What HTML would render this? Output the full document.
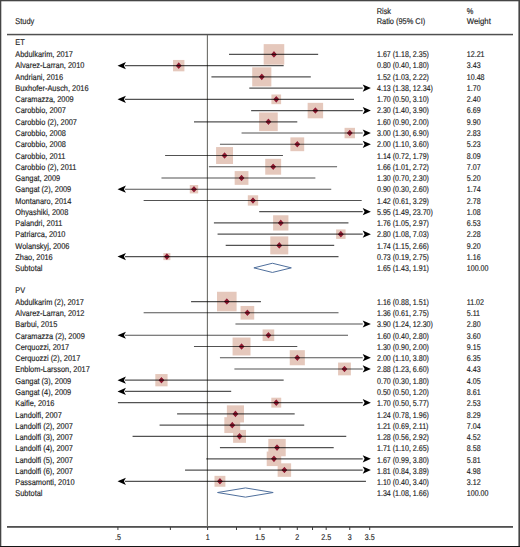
<!DOCTYPE html>
<html><head><meta charset="utf-8"><title>Forest plot</title>
<style>html,body{margin:0;padding:0;background:#fff;width:520px;height:547px;overflow:hidden}svg{display:block}</style>
</head><body>
<svg width="520" height="547" viewBox="0 0 520 547">
<rect x="0" y="0" width="520" height="547" fill="#fff"/>
<rect x="7" y="33.8" width="506" height="1.5" fill="#505050"/>
<rect x="7" y="526" width="506" height="1.8" fill="#505050"/>
<rect x="206.85" y="35" width="1.05" height="492" fill="#656560"/>
<rect x="117.41" y="527" width="1" height="3" fill="#3a3a3a"/>
<rect x="169.87" y="527" width="1" height="3" fill="#3a3a3a"/>
<rect x="207.10" y="527" width="1" height="3" fill="#3a3a3a"/>
<rect x="235.97" y="527" width="1" height="3" fill="#3a3a3a"/>
<rect x="259.57" y="527" width="1" height="3" fill="#3a3a3a"/>
<rect x="279.51" y="527" width="1" height="3" fill="#3a3a3a"/>
<rect x="296.79" y="527" width="1" height="3" fill="#3a3a3a"/>
<rect x="312.03" y="527" width="1" height="3" fill="#3a3a3a"/>
<rect x="325.67" y="527" width="1" height="3" fill="#3a3a3a"/>
<rect x="349.26" y="527" width="1" height="3" fill="#3a3a3a"/>
<rect x="369.21" y="527" width="1" height="3" fill="#3a3a3a"/>
<rect x="263.68" y="44.12" width="20.57" height="20.57" fill="#e5c8bc"/>
<rect x="173.04" y="59.95" width="11.37" height="11.37" fill="#e5c8bc"/>
<rect x="252.22" y="67.31" width="19.13" height="19.13" fill="#e5c8bc"/>
<rect x="271.43" y="94.50" width="9.68" height="9.68" fill="#e5c8bc"/>
<rect x="307.64" y="102.83" width="15.48" height="15.48" fill="#e5c8bc"/>
<rect x="259.11" y="112.50" width="18.62" height="18.62" fill="#e5c8bc"/>
<rect x="344.55" y="127.83" width="10.42" height="10.42" fill="#e5c8bc"/>
<rect x="290.39" y="137.37" width="13.81" height="13.81" fill="#e5c8bc"/>
<rect x="216.09" y="147.05" width="16.93" height="16.93" fill="#e5c8bc"/>
<rect x="265.24" y="158.80" width="15.89" height="15.89" fill="#e5c8bc"/>
<rect x="234.66" y="171.09" width="13.77" height="13.77" fill="#e5c8bc"/>
<rect x="189.77" y="185.02" width="8.39" height="8.39" fill="#e5c8bc"/>
<rect x="247.81" y="195.28" width="10.34" height="10.34" fill="#e5c8bc"/>
<rect x="273.10" y="215.26" width="15.31" height="15.31" fill="#e5c8bc"/>
<rect x="336.10" y="229.42" width="9.46" height="9.46" fill="#e5c8bc"/>
<rect x="270.28" y="236.39" width="17.99" height="17.99" fill="#e5c8bc"/>
<rect x="163.36" y="253.10" width="7.03" height="7.03" fill="#e5c8bc"/>
<rect x="217.01" y="291.76" width="19.59" height="19.59" fill="#e5c8bc"/>
<rect x="240.56" y="305.96" width="13.66" height="13.66" fill="#e5c8bc"/>
<rect x="262.61" y="329.44" width="11.63" height="11.63" fill="#e5c8bc"/>
<rect x="232.58" y="337.52" width="17.94" height="17.94" fill="#e5c8bc"/>
<rect x="289.74" y="350.17" width="15.11" height="15.11" fill="#e5c8bc"/>
<rect x="338.08" y="362.56" width="12.79" height="12.79" fill="#e5c8bc"/>
<rect x="155.31" y="374.06" width="12.27" height="12.27" fill="#e5c8bc"/>
<rect x="271.31" y="397.70" width="9.91" height="9.91" fill="#e5c8bc"/>
<rect x="226.87" y="405.33" width="17.12" height="17.12" fill="#e5c8bc"/>
<rect x="224.34" y="417.20" width="15.86" height="15.86" fill="#e5c8bc"/>
<rect x="233.09" y="429.91" width="12.91" height="12.91" fill="#e5c8bc"/>
<rect x="268.32" y="438.89" width="17.40" height="17.40" fill="#e5c8bc"/>
<rect x="266.71" y="451.58" width="14.50" height="14.50" fill="#e5c8bc"/>
<rect x="277.63" y="463.31" width="13.50" height="13.50" fill="#e5c8bc"/>
<rect x="214.49" y="475.85" width="10.89" height="10.89" fill="#e5c8bc"/>
<path d="M270.96 54.40 L273.96 51.10 L276.96 54.40 L273.96 57.70 Z" fill="#901b31" stroke="#f4e2dc" stroke-width="0.8" paint-order="stroke"/>
<path d="M175.73 65.64 L178.73 62.34 L181.73 65.64 L178.73 68.94 Z" fill="#901b31" stroke="#f4e2dc" stroke-width="0.8" paint-order="stroke"/>
<path d="M258.78 76.87 L261.78 73.57 L264.78 76.87 L261.78 80.17 Z" fill="#901b31" stroke="#f4e2dc" stroke-width="0.8" paint-order="stroke"/>
<path d="M273.26 99.34 L276.26 96.04 L279.26 99.34 L276.26 102.64 Z" fill="#901b31" stroke="#f4e2dc" stroke-width="0.8" paint-order="stroke"/>
<path d="M312.38 110.57 L315.38 107.27 L318.38 110.57 L315.38 113.87 Z" fill="#901b31" stroke="#f4e2dc" stroke-width="0.8" paint-order="stroke"/>
<path d="M265.42 121.81 L268.42 118.51 L271.42 121.81 L268.42 125.11 Z" fill="#901b31" stroke="#f4e2dc" stroke-width="0.8" paint-order="stroke"/>
<path d="M346.76 133.04 L349.76 129.74 L352.76 133.04 L349.76 136.34 Z" fill="#901b31" stroke="#f4e2dc" stroke-width="0.8" paint-order="stroke"/>
<path d="M294.29 144.28 L297.29 140.98 L300.29 144.28 L297.29 147.58 Z" fill="#901b31" stroke="#f4e2dc" stroke-width="0.8" paint-order="stroke"/>
<path d="M221.56 155.51 L224.56 152.21 L227.56 155.51 L224.56 158.81 Z" fill="#901b31" stroke="#f4e2dc" stroke-width="0.8" paint-order="stroke"/>
<path d="M270.18 166.74 L273.18 163.44 L276.18 166.74 L273.18 170.04 Z" fill="#901b31" stroke="#f4e2dc" stroke-width="0.8" paint-order="stroke"/>
<path d="M238.55 177.98 L241.55 174.68 L244.55 177.98 L241.55 181.28 Z" fill="#901b31" stroke="#f4e2dc" stroke-width="0.8" paint-order="stroke"/>
<path d="M190.97 189.21 L193.97 185.91 L196.97 189.21 L193.97 192.51 Z" fill="#901b31" stroke="#f4e2dc" stroke-width="0.8" paint-order="stroke"/>
<path d="M249.97 200.45 L252.97 197.15 L255.97 200.45 L252.97 203.75 Z" fill="#901b31" stroke="#f4e2dc" stroke-width="0.8" paint-order="stroke"/>
<path d="M277.75 222.91 L280.75 219.61 L283.75 222.91 L280.75 226.21 Z" fill="#901b31" stroke="#f4e2dc" stroke-width="0.8" paint-order="stroke"/>
<path d="M337.83 234.15 L340.83 230.85 L343.83 234.15 L340.83 237.45 Z" fill="#901b31" stroke="#f4e2dc" stroke-width="0.8" paint-order="stroke"/>
<path d="M276.27 245.38 L279.27 242.08 L282.27 245.38 L279.27 248.68 Z" fill="#901b31" stroke="#f4e2dc" stroke-width="0.8" paint-order="stroke"/>
<path d="M163.88 256.62 L166.88 253.32 L169.88 256.62 L166.88 259.92 Z" fill="#901b31" stroke="#f4e2dc" stroke-width="0.8" paint-order="stroke"/>
<path d="M223.81 301.55 L226.81 298.25 L229.81 301.55 L226.81 304.85 Z" fill="#901b31" stroke="#f4e2dc" stroke-width="0.8" paint-order="stroke"/>
<path d="M244.39 312.79 L247.39 309.49 L250.39 312.79 L247.39 316.09 Z" fill="#901b31" stroke="#f4e2dc" stroke-width="0.8" paint-order="stroke"/>
<path d="M265.42 335.25 L268.42 331.95 L271.42 335.25 L268.42 338.55 Z" fill="#901b31" stroke="#f4e2dc" stroke-width="0.8" paint-order="stroke"/>
<path d="M238.55 346.49 L241.55 343.19 L244.55 346.49 L241.55 349.79 Z" fill="#901b31" stroke="#f4e2dc" stroke-width="0.8" paint-order="stroke"/>
<path d="M294.29 357.72 L297.29 354.42 L300.29 357.72 L297.29 361.02 Z" fill="#901b31" stroke="#f4e2dc" stroke-width="0.8" paint-order="stroke"/>
<path d="M341.48 368.96 L344.48 365.66 L347.48 368.96 L344.48 372.26 Z" fill="#901b31" stroke="#f4e2dc" stroke-width="0.8" paint-order="stroke"/>
<path d="M158.45 380.19 L161.45 376.89 L164.45 380.19 L161.45 383.49 Z" fill="#901b31" stroke="#f4e2dc" stroke-width="0.8" paint-order="stroke"/>
<path d="M273.26 402.66 L276.26 399.36 L279.26 402.66 L276.26 405.96 Z" fill="#901b31" stroke="#f4e2dc" stroke-width="0.8" paint-order="stroke"/>
<path d="M232.44 413.89 L235.44 410.59 L238.44 413.89 L235.44 417.19 Z" fill="#901b31" stroke="#f4e2dc" stroke-width="0.8" paint-order="stroke"/>
<path d="M229.27 425.13 L232.27 421.83 L235.27 425.13 L232.27 428.43 Z" fill="#901b31" stroke="#f4e2dc" stroke-width="0.8" paint-order="stroke"/>
<path d="M236.54 436.36 L239.54 433.06 L242.54 436.36 L239.54 439.66 Z" fill="#901b31" stroke="#f4e2dc" stroke-width="0.8" paint-order="stroke"/>
<path d="M274.02 447.59 L277.02 444.29 L280.02 447.59 L277.02 450.89 Z" fill="#901b31" stroke="#f4e2dc" stroke-width="0.8" paint-order="stroke"/>
<path d="M270.96 458.83 L273.96 455.53 L276.96 458.83 L273.96 462.13 Z" fill="#901b31" stroke="#f4e2dc" stroke-width="0.8" paint-order="stroke"/>
<path d="M281.38 470.06 L284.38 466.76 L287.38 470.06 L284.38 473.36 Z" fill="#901b31" stroke="#f4e2dc" stroke-width="0.8" paint-order="stroke"/>
<path d="M216.93 481.30 L219.93 478.00 L222.93 481.30 L219.93 484.60 Z" fill="#901b31" stroke="#f4e2dc" stroke-width="0.8" paint-order="stroke"/>
<line x1="229.02" y1="54.40" x2="318.16" y2="54.40" stroke="#000" stroke-opacity="0.68" stroke-width="1.15"/>
<line x1="124.91" y1="65.64" x2="283.66" y2="65.64" stroke="#000" stroke-opacity="0.68" stroke-width="1.15"/>
<line x1="211.42" y1="76.87" x2="310.80" y2="76.87" stroke="#000" stroke-opacity="0.68" stroke-width="1.15"/>
<line x1="249.28" y1="88.11" x2="362.71" y2="88.11" stroke="#000" stroke-opacity="0.68" stroke-width="1.15"/>
<line x1="124.91" y1="99.34" x2="354.00" y2="99.34" stroke="#000" stroke-opacity="0.68" stroke-width="1.15"/>
<line x1="251.14" y1="110.57" x2="362.71" y2="110.57" stroke="#000" stroke-opacity="0.68" stroke-width="1.15"/>
<line x1="193.97" y1="121.81" x2="297.29" y2="121.81" stroke="#000" stroke-opacity="0.68" stroke-width="1.15"/>
<line x1="241.55" y1="133.04" x2="362.71" y2="133.04" stroke="#000" stroke-opacity="0.68" stroke-width="1.15"/>
<line x1="219.93" y1="144.28" x2="362.71" y2="144.28" stroke="#000" stroke-opacity="0.68" stroke-width="1.15"/>
<line x1="165.09" y1="155.51" x2="282.94" y2="155.51" stroke="#000" stroke-opacity="0.68" stroke-width="1.15"/>
<line x1="208.89" y1="166.74" x2="337.08" y2="166.74" stroke="#000" stroke-opacity="0.68" stroke-width="1.15"/>
<line x1="161.45" y1="177.98" x2="315.38" y2="177.98" stroke="#000" stroke-opacity="0.68" stroke-width="1.15"/>
<line x1="124.91" y1="189.21" x2="331.24" y2="189.21" stroke="#000" stroke-opacity="0.68" stroke-width="1.15"/>
<line x1="143.64" y1="200.45" x2="361.70" y2="200.45" stroke="#000" stroke-opacity="0.68" stroke-width="1.15"/>
<line x1="259.20" y1="211.68" x2="362.71" y2="211.68" stroke="#000" stroke-opacity="0.68" stroke-width="1.15"/>
<line x1="213.91" y1="222.91" x2="348.46" y2="222.91" stroke="#000" stroke-opacity="0.68" stroke-width="1.15"/>
<line x1="217.56" y1="234.15" x2="362.71" y2="234.15" stroke="#000" stroke-opacity="0.68" stroke-width="1.15"/>
<line x1="225.69" y1="245.38" x2="334.20" y2="245.38" stroke="#000" stroke-opacity="0.68" stroke-width="1.15"/>
<line x1="124.91" y1="256.62" x2="338.50" y2="256.62" stroke="#000" stroke-opacity="0.68" stroke-width="1.15"/>
<line x1="191.06" y1="301.55" x2="260.93" y2="301.55" stroke="#000" stroke-opacity="0.68" stroke-width="1.15"/>
<line x1="143.64" y1="312.79" x2="338.50" y2="312.79" stroke="#000" stroke-opacity="0.68" stroke-width="1.15"/>
<line x1="235.44" y1="324.02" x2="362.71" y2="324.02" stroke="#000" stroke-opacity="0.68" stroke-width="1.15"/>
<line x1="124.91" y1="335.25" x2="348.02" y2="335.25" stroke="#000" stroke-opacity="0.68" stroke-width="1.15"/>
<line x1="193.97" y1="346.49" x2="297.29" y2="346.49" stroke="#000" stroke-opacity="0.68" stroke-width="1.15"/>
<line x1="219.93" y1="357.72" x2="362.71" y2="357.72" stroke="#000" stroke-opacity="0.68" stroke-width="1.15"/>
<line x1="234.39" y1="368.96" x2="362.71" y2="368.96" stroke="#000" stroke-opacity="0.68" stroke-width="1.15"/>
<line x1="124.91" y1="380.19" x2="283.66" y2="380.19" stroke="#000" stroke-opacity="0.68" stroke-width="1.15"/>
<line x1="124.91" y1="391.42" x2="231.19" y2="391.42" stroke="#000" stroke-opacity="0.68" stroke-width="1.15"/>
<line x1="117.91" y1="402.66" x2="362.71" y2="402.66" stroke="#000" stroke-opacity="0.68" stroke-width="1.15"/>
<line x1="177.10" y1="413.89" x2="294.68" y2="413.89" stroke="#000" stroke-opacity="0.68" stroke-width="1.15"/>
<line x1="159.58" y1="425.13" x2="304.22" y2="425.13" stroke="#000" stroke-opacity="0.68" stroke-width="1.15"/>
<line x1="132.57" y1="436.36" x2="346.26" y2="436.36" stroke="#000" stroke-opacity="0.68" stroke-width="1.15"/>
<line x1="219.93" y1="447.59" x2="333.71" y2="447.59" stroke="#000" stroke-opacity="0.68" stroke-width="1.15"/>
<line x1="206.30" y1="458.83" x2="362.71" y2="458.83" stroke="#000" stroke-opacity="0.68" stroke-width="1.15"/>
<line x1="185.04" y1="470.06" x2="362.71" y2="470.06" stroke="#000" stroke-opacity="0.68" stroke-width="1.15"/>
<line x1="124.91" y1="481.30" x2="365.96" y2="481.30" stroke="#000" stroke-opacity="0.68" stroke-width="1.15"/>
<path d="M117.51 65.64 L125.91 62.04 L123.91 65.64 L125.91 69.24 Z" fill="#000"/>
<path d="M370.91 88.11 L362.71 84.51 L364.61 88.11 L362.71 91.71 Z" fill="#000"/>
<path d="M117.51 99.34 L125.91 95.74 L123.91 99.34 L125.91 102.94 Z" fill="#000"/>
<path d="M370.91 110.57 L362.71 106.97 L364.61 110.57 L362.71 114.17 Z" fill="#000"/>
<path d="M370.91 133.04 L362.71 129.44 L364.61 133.04 L362.71 136.64 Z" fill="#000"/>
<path d="M370.91 144.28 L362.71 140.68 L364.61 144.28 L362.71 147.88 Z" fill="#000"/>
<path d="M117.51 189.21 L125.91 185.61 L123.91 189.21 L125.91 192.81 Z" fill="#000"/>
<path d="M370.91 211.68 L362.71 208.08 L364.61 211.68 L362.71 215.28 Z" fill="#000"/>
<path d="M370.91 234.15 L362.71 230.55 L364.61 234.15 L362.71 237.75 Z" fill="#000"/>
<path d="M117.51 256.62 L125.91 253.02 L123.91 256.62 L125.91 260.22 Z" fill="#000"/>
<path d="M370.91 324.02 L362.71 320.42 L364.61 324.02 L362.71 327.62 Z" fill="#000"/>
<path d="M117.51 335.25 L125.91 331.65 L123.91 335.25 L125.91 338.85 Z" fill="#000"/>
<path d="M370.91 357.72 L362.71 354.12 L364.61 357.72 L362.71 361.32 Z" fill="#000"/>
<path d="M370.91 368.96 L362.71 365.36 L364.61 368.96 L362.71 372.56 Z" fill="#000"/>
<path d="M117.51 380.19 L125.91 376.59 L123.91 380.19 L125.91 383.79 Z" fill="#000"/>
<path d="M117.51 391.42 L125.91 387.82 L123.91 391.42 L125.91 395.02 Z" fill="#000"/>
<path d="M370.91 402.66 L362.71 399.06 L364.61 402.66 L362.71 406.26 Z" fill="#000"/>
<path d="M370.91 458.83 L362.71 455.23 L364.61 458.83 L362.71 462.43 Z" fill="#000"/>
<path d="M370.91 470.06 L362.71 466.46 L364.61 470.06 L362.71 473.66 Z" fill="#000"/>
<path d="M117.51 481.30 L125.91 477.70 L123.91 481.30 L125.91 484.90 Z" fill="#000"/>
<path d="M253.88 267.85 L272.40 263.25 L291.34 267.85 L272.40 272.45 Z" fill="none" stroke="#4f6f9c" stroke-width="1"/>
<path d="M217.56 492.53 L245.47 487.93 L273.18 492.53 L245.47 497.13 Z" fill="none" stroke="#4f6f9c" stroke-width="1"/>
<g font-family="Liberation Sans, sans-serif" font-size="8.4" fill="#1e1e1e" stroke="#1e1e1e" stroke-width="0.16" text-rendering="geometricPrecision">
<text x="15.30" y="23.90" textLength="18.92" lengthAdjust="spacingAndGlyphs">Study</text>
<text x="376.70" y="13.90" textLength="14.39" lengthAdjust="spacingAndGlyphs">Risk</text>
<text x="376.70" y="24.00" textLength="48.52" lengthAdjust="spacingAndGlyphs">Ratio (95% CI)</text>
<text x="466.80" y="13.90" textLength="6.58" lengthAdjust="spacingAndGlyphs">%</text>
<text x="466.80" y="24.00" textLength="24.00" lengthAdjust="spacingAndGlyphs">Weight</text>
<text x="15.30" y="45.15" textLength="9.46" lengthAdjust="spacingAndGlyphs">ET</text>
<text x="15.30" y="57.00" textLength="57.58" lengthAdjust="spacingAndGlyphs">Abdulkarim, 2017</text>
<text x="377.00" y="57.00" textLength="51.95" lengthAdjust="spacingAndGlyphs">1.67 (1.18, 2.35)</text>
<text x="466.80" y="57.00" textLength="17.72" lengthAdjust="spacingAndGlyphs">12.21</text>
<text x="15.30" y="68.00" textLength="69.10" lengthAdjust="spacingAndGlyphs">Alvarez-Larran, 2010</text>
<text x="377.00" y="68.00" textLength="51.95" lengthAdjust="spacingAndGlyphs">0.80 (0.40, 1.80)</text>
<text x="466.80" y="68.00" textLength="13.78" lengthAdjust="spacingAndGlyphs">3.43</text>
<text x="15.30" y="80.00" textLength="47.72" lengthAdjust="spacingAndGlyphs">Andriani, 2016</text>
<text x="377.00" y="80.00" textLength="51.95" lengthAdjust="spacingAndGlyphs">1.52 (1.03, 2.22)</text>
<text x="466.80" y="80.00" textLength="17.72" lengthAdjust="spacingAndGlyphs">10.48</text>
<text x="15.30" y="91.00" textLength="73.22" lengthAdjust="spacingAndGlyphs">Buxhofer-Ausch, 2016</text>
<text x="377.00" y="91.00" textLength="55.89" lengthAdjust="spacingAndGlyphs">4.13 (1.38, 12.34)</text>
<text x="466.80" y="91.00" textLength="13.78" lengthAdjust="spacingAndGlyphs">1.70</text>
<text x="15.30" y="102.00" textLength="58.40" lengthAdjust="spacingAndGlyphs">Caramazza, 2009</text>
<text x="377.00" y="102.00" textLength="51.95" lengthAdjust="spacingAndGlyphs">1.70 (0.50, 3.10)</text>
<text x="466.80" y="102.00" textLength="13.78" lengthAdjust="spacingAndGlyphs">2.40</text>
<text x="15.30" y="113.00" textLength="50.60" lengthAdjust="spacingAndGlyphs">Carobbio, 2007</text>
<text x="377.00" y="113.00" textLength="51.95" lengthAdjust="spacingAndGlyphs">2.30 (1.40, 3.90)</text>
<text x="466.80" y="113.00" textLength="13.78" lengthAdjust="spacingAndGlyphs">6.69</text>
<text x="15.30" y="125.00" textLength="61.70" lengthAdjust="spacingAndGlyphs">Carobbio (2), 2007</text>
<text x="377.00" y="125.00" textLength="51.95" lengthAdjust="spacingAndGlyphs">1.60 (0.90, 2.00)</text>
<text x="466.80" y="125.00" textLength="13.78" lengthAdjust="spacingAndGlyphs">9.90</text>
<text x="15.30" y="136.00" textLength="50.60" lengthAdjust="spacingAndGlyphs">Carobbio, 2008</text>
<text x="377.00" y="136.00" textLength="51.95" lengthAdjust="spacingAndGlyphs">3.00 (1.30, 6.90)</text>
<text x="466.80" y="136.00" textLength="13.78" lengthAdjust="spacingAndGlyphs">2.83</text>
<text x="15.30" y="147.00" textLength="50.60" lengthAdjust="spacingAndGlyphs">Carobbio, 2008</text>
<text x="377.00" y="147.00" textLength="51.95" lengthAdjust="spacingAndGlyphs">2.00 (1.10, 3.60)</text>
<text x="466.80" y="147.00" textLength="13.78" lengthAdjust="spacingAndGlyphs">5.23</text>
<text x="15.30" y="159.00" textLength="50.05" lengthAdjust="spacingAndGlyphs">Carobbio, 2011</text>
<text x="377.00" y="159.00" textLength="51.95" lengthAdjust="spacingAndGlyphs">1.14 (0.72, 1.79)</text>
<text x="466.80" y="159.00" textLength="13.78" lengthAdjust="spacingAndGlyphs">8.09</text>
<text x="15.30" y="170.00" textLength="61.15" lengthAdjust="spacingAndGlyphs">Carobbio (2), 2011</text>
<text x="377.00" y="170.00" textLength="51.95" lengthAdjust="spacingAndGlyphs">1.66 (1.01, 2.72)</text>
<text x="466.80" y="170.00" textLength="13.78" lengthAdjust="spacingAndGlyphs">7.07</text>
<text x="15.30" y="181.00" textLength="44.84" lengthAdjust="spacingAndGlyphs">Gangat, 2009</text>
<text x="377.00" y="181.00" textLength="51.95" lengthAdjust="spacingAndGlyphs">1.30 (0.70, 2.30)</text>
<text x="466.80" y="181.00" textLength="13.78" lengthAdjust="spacingAndGlyphs">5.20</text>
<text x="15.30" y="192.00" textLength="55.94" lengthAdjust="spacingAndGlyphs">Gangat (2), 2009</text>
<text x="377.00" y="192.00" textLength="51.95" lengthAdjust="spacingAndGlyphs">0.90 (0.30, 2.60)</text>
<text x="466.80" y="192.00" textLength="13.78" lengthAdjust="spacingAndGlyphs">1.74</text>
<text x="15.30" y="204.00" textLength="55.95" lengthAdjust="spacingAndGlyphs">Montanaro, 2014</text>
<text x="377.00" y="204.00" textLength="51.95" lengthAdjust="spacingAndGlyphs">1.42 (0.61, 3.29)</text>
<text x="466.80" y="204.00" textLength="13.78" lengthAdjust="spacingAndGlyphs">2.78</text>
<text x="15.30" y="215.00" textLength="53.06" lengthAdjust="spacingAndGlyphs">Ohyashiki, 2008</text>
<text x="377.00" y="215.00" textLength="55.89" lengthAdjust="spacingAndGlyphs">5.95 (1.49, 23.70)</text>
<text x="466.80" y="215.00" textLength="13.78" lengthAdjust="spacingAndGlyphs">1.08</text>
<text x="15.30" y="226.00" textLength="47.17" lengthAdjust="spacingAndGlyphs">Palandri, 2011</text>
<text x="377.00" y="226.00" textLength="51.95" lengthAdjust="spacingAndGlyphs">1.76 (1.05, 2.97)</text>
<text x="466.80" y="226.00" textLength="13.78" lengthAdjust="spacingAndGlyphs">6.53</text>
<text x="15.30" y="237.00" textLength="50.18" lengthAdjust="spacingAndGlyphs">Patriarca, 2010</text>
<text x="377.00" y="237.00" textLength="51.95" lengthAdjust="spacingAndGlyphs">2.80 (1.08, 7.03)</text>
<text x="466.80" y="237.00" textLength="13.78" lengthAdjust="spacingAndGlyphs">2.28</text>
<text x="15.30" y="249.00" textLength="54.16" lengthAdjust="spacingAndGlyphs">Wolanskyj, 2006</text>
<text x="377.00" y="249.00" textLength="51.95" lengthAdjust="spacingAndGlyphs">1.74 (1.15, 2.66)</text>
<text x="466.80" y="249.00" textLength="13.78" lengthAdjust="spacingAndGlyphs">9.20</text>
<text x="15.30" y="260.00" textLength="37.44" lengthAdjust="spacingAndGlyphs">Zhao, 2016</text>
<text x="377.00" y="260.00" textLength="51.95" lengthAdjust="spacingAndGlyphs">0.73 (0.19, 2.75)</text>
<text x="466.80" y="260.00" textLength="13.78" lengthAdjust="spacingAndGlyphs">1.16</text>
<text x="15.30" y="271.00" textLength="27.15" lengthAdjust="spacingAndGlyphs">Subtotal</text>
<text x="377.00" y="271.00" textLength="51.95" lengthAdjust="spacingAndGlyphs">1.65 (1.43, 1.91)</text>
<text x="466.80" y="271.00" textLength="21.65" lengthAdjust="spacingAndGlyphs">100.00</text>
<text x="15.30" y="292.60" textLength="9.87" lengthAdjust="spacingAndGlyphs">PV</text>
<text x="15.30" y="305.00" textLength="68.68" lengthAdjust="spacingAndGlyphs">Abdulkarim (2), 2017</text>
<text x="377.00" y="305.00" textLength="51.95" lengthAdjust="spacingAndGlyphs">1.16 (0.88, 1.51)</text>
<text x="466.80" y="305.00" textLength="17.19" lengthAdjust="spacingAndGlyphs">11.02</text>
<text x="15.30" y="316.00" textLength="69.10" lengthAdjust="spacingAndGlyphs">Alvarez-Larran, 2012</text>
<text x="377.00" y="316.00" textLength="51.95" lengthAdjust="spacingAndGlyphs">1.36 (0.61, 2.75)</text>
<text x="466.80" y="316.00" textLength="13.25" lengthAdjust="spacingAndGlyphs">5.11</text>
<text x="15.30" y="327.00" textLength="41.96" lengthAdjust="spacingAndGlyphs">Barbui, 2015</text>
<text x="377.00" y="327.00" textLength="55.89" lengthAdjust="spacingAndGlyphs">3.90 (1.24, 12.30)</text>
<text x="466.80" y="327.00" textLength="13.78" lengthAdjust="spacingAndGlyphs">2.80</text>
<text x="15.30" y="339.00" textLength="69.50" lengthAdjust="spacingAndGlyphs">Caramazza (2), 2009</text>
<text x="377.00" y="339.00" textLength="51.95" lengthAdjust="spacingAndGlyphs">1.60 (0.40, 2.80)</text>
<text x="466.80" y="339.00" textLength="13.78" lengthAdjust="spacingAndGlyphs">3.60</text>
<text x="15.30" y="350.00" textLength="53.88" lengthAdjust="spacingAndGlyphs">Cerquozzi, 2017</text>
<text x="377.00" y="350.00" textLength="51.95" lengthAdjust="spacingAndGlyphs">1.30 (0.90, 2.00)</text>
<text x="466.80" y="350.00" textLength="13.78" lengthAdjust="spacingAndGlyphs">9.15</text>
<text x="15.30" y="361.00" textLength="64.98" lengthAdjust="spacingAndGlyphs">Cerquozzi (2), 2017</text>
<text x="377.00" y="361.00" textLength="51.95" lengthAdjust="spacingAndGlyphs">2.00 (1.10, 3.80)</text>
<text x="466.80" y="361.00" textLength="13.78" lengthAdjust="spacingAndGlyphs">6.35</text>
<text x="15.30" y="372.00" textLength="74.45" lengthAdjust="spacingAndGlyphs">Enblom-Larsson, 2017</text>
<text x="377.00" y="372.00" textLength="51.95" lengthAdjust="spacingAndGlyphs">2.88 (1.23, 6.60)</text>
<text x="466.80" y="372.00" textLength="13.78" lengthAdjust="spacingAndGlyphs">4.43</text>
<text x="15.30" y="384.00" textLength="55.94" lengthAdjust="spacingAndGlyphs">Gangat (3), 2009</text>
<text x="377.00" y="384.00" textLength="51.95" lengthAdjust="spacingAndGlyphs">0.70 (0.30, 1.80)</text>
<text x="466.80" y="384.00" textLength="13.78" lengthAdjust="spacingAndGlyphs">4.05</text>
<text x="15.30" y="395.00" textLength="55.94" lengthAdjust="spacingAndGlyphs">Gangat (4), 2009</text>
<text x="377.00" y="395.00" textLength="51.95" lengthAdjust="spacingAndGlyphs">0.50 (0.50, 1.20)</text>
<text x="466.80" y="395.00" textLength="13.78" lengthAdjust="spacingAndGlyphs">8.61</text>
<text x="15.30" y="406.00" textLength="39.08" lengthAdjust="spacingAndGlyphs">Kaifie, 2016</text>
<text x="377.00" y="406.00" textLength="51.95" lengthAdjust="spacingAndGlyphs">1.70 (0.50, 5.77)</text>
<text x="466.80" y="406.00" textLength="13.78" lengthAdjust="spacingAndGlyphs">2.53</text>
<text x="15.30" y="418.00" textLength="46.49" lengthAdjust="spacingAndGlyphs">Landolfi, 2007</text>
<text x="377.00" y="418.00" textLength="51.95" lengthAdjust="spacingAndGlyphs">1.24 (0.78, 1.96)</text>
<text x="466.80" y="418.00" textLength="13.78" lengthAdjust="spacingAndGlyphs">8.29</text>
<text x="15.30" y="429.00" textLength="57.59" lengthAdjust="spacingAndGlyphs">Landolfi (2), 2007</text>
<text x="377.00" y="429.00" textLength="51.43" lengthAdjust="spacingAndGlyphs">1.21 (0.69, 2.11)</text>
<text x="466.80" y="429.00" textLength="13.78" lengthAdjust="spacingAndGlyphs">7.04</text>
<text x="15.30" y="440.00" textLength="57.59" lengthAdjust="spacingAndGlyphs">Landolfi (3), 2007</text>
<text x="377.00" y="440.00" textLength="51.95" lengthAdjust="spacingAndGlyphs">1.28 (0.56, 2.92)</text>
<text x="466.80" y="440.00" textLength="13.78" lengthAdjust="spacingAndGlyphs">4.52</text>
<text x="15.30" y="451.00" textLength="57.59" lengthAdjust="spacingAndGlyphs">Landolfi (4), 2007</text>
<text x="377.00" y="451.00" textLength="51.95" lengthAdjust="spacingAndGlyphs">1.71 (1.10, 2.65)</text>
<text x="466.80" y="451.00" textLength="13.78" lengthAdjust="spacingAndGlyphs">8.58</text>
<text x="15.30" y="463.00" textLength="57.59" lengthAdjust="spacingAndGlyphs">Landolfi (5), 2007</text>
<text x="377.00" y="463.00" textLength="51.95" lengthAdjust="spacingAndGlyphs">1.67 (0.99, 3.80)</text>
<text x="466.80" y="463.00" textLength="13.78" lengthAdjust="spacingAndGlyphs">5.81</text>
<text x="15.30" y="474.00" textLength="57.59" lengthAdjust="spacingAndGlyphs">Landolfi (6), 2007</text>
<text x="377.00" y="474.00" textLength="51.95" lengthAdjust="spacingAndGlyphs">1.81 (0.84, 3.89)</text>
<text x="466.80" y="474.00" textLength="13.78" lengthAdjust="spacingAndGlyphs">4.98</text>
<text x="15.30" y="485.00" textLength="59.23" lengthAdjust="spacingAndGlyphs">Passamonti, 2010</text>
<text x="377.00" y="485.00" textLength="51.95" lengthAdjust="spacingAndGlyphs">1.10 (0.40, 3.40)</text>
<text x="466.80" y="485.00" textLength="13.78" lengthAdjust="spacingAndGlyphs">3.12</text>
<text x="15.30" y="496.00" textLength="27.15" lengthAdjust="spacingAndGlyphs">Subtotal</text>
<text x="377.00" y="496.00" textLength="51.95" lengthAdjust="spacingAndGlyphs">1.34 (1.08, 1.66)</text>
<text x="466.80" y="496.00" textLength="21.65" lengthAdjust="spacingAndGlyphs">100.00</text>
<text x="114.95" y="539.80" textLength="5.90" lengthAdjust="spacingAndGlyphs">.5</text>
<text x="205.63" y="539.80" textLength="3.94" lengthAdjust="spacingAndGlyphs">1</text>
<text x="255.15" y="539.80" textLength="9.84" lengthAdjust="spacingAndGlyphs">1.5</text>
<text x="295.32" y="539.80" textLength="3.94" lengthAdjust="spacingAndGlyphs">2</text>
<text x="321.25" y="539.80" textLength="9.84" lengthAdjust="spacingAndGlyphs">2.5</text>
<text x="347.79" y="539.80" textLength="3.94" lengthAdjust="spacingAndGlyphs">3</text>
<text x="364.79" y="539.80" textLength="9.84" lengthAdjust="spacingAndGlyphs">3.5</text>
</g>
<rect x="0" y="0" width="520" height="1.3" fill="#454545"/>
<rect x="0" y="0" width="1.3" height="547" fill="#454545"/>
<rect x="518.4" y="0" width="1.6" height="547" fill="#454545"/>
<rect x="0" y="546" width="520" height="1" fill="#151515"/>
</svg>
</body></html>
